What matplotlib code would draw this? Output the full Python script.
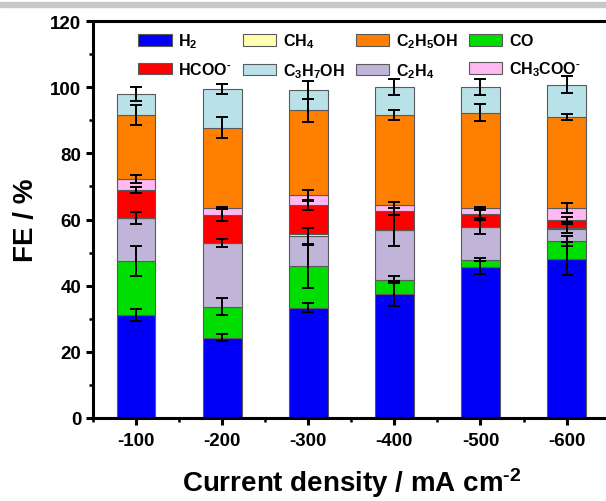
"""
Stacked Faradaic efficiency bars vs current density.
"""

import matplotlib

matplotlib.use("Agg")
import matplotlib.pyplot as plt
from matplotlib.patches import Patch, Rectangle
from matplotlib.ticker import MultipleLocator
import numpy as np

plt.rcParams["font.family"] = ["Liberation Sans", "DejaVu Sans"]
plt.rcParams["font.weight"] = "bold"
plt.rcParams["mathtext.fontset"] = "custom"
plt.rcParams["mathtext.rm"] = "Liberation Sans:bold"
plt.rcParams["mathtext.bf"] = "Liberation Sans:bold"
plt.rcParams["mathtext.default"] = "bf"

CURRENTS = ["-100", "-200", "-300", "-400", "-500", "-600"]

# FE values (%) per product, stacked bottom to top
H2 = [31.2, 24.3, 33.4, 37.6, 45.5, 48.2]
CO = [16.2, 9.4, 12.4, 4.2, 2.4, 5.4]
C2H4 = [13.0, 19.1, 9.2, 14.9, 9.8, 3.6]
CH4 = [0.2, 0.1, 0.5, 0.1, 0.1, 0.1]
HCOO = [8.3, 8.4, 8.9, 5.7, 3.9, 2.7]
CH3COO = [3.3, 2.2, 2.9, 1.9, 1.8, 3.5]
C2H5OH = [19.3, 24.3, 25.7, 27.2, 28.8, 27.5]
C3H7OH = [6.4, 11.7, 6.2, 8.4, 7.7, 9.7]

# error bars (+/-) drawn at the top of each segment
H2_ERR = [1.8, 1.0, 1.3, 3.8, 2.0, 5.0]
CO_ERR = [4.6, 2.6, 6.4, 1.0, 0.5, 1.5]
C2H4_ERR = [1.9, 1.2, 2.5, 4.6, 2.1, 1.3]
CH4_ERR = [0.0, 0.0, 0.0, 0.0, 0.0, 0.0]
HCOO_ERR = [0.8, 1.9, 1.4, 1.0, 1.2, 0.7]
CH3COO_ERR = [1.3, 0.3, 1.6, 1.0, 0.3, 1.4]
C2H5OH_ERR = [3.0, 3.3, 3.5, 1.4, 2.5, 1.0]
C3H7OH_ERR = [2.1, 1.6, 2.8, 2.5, 2.5, 2.6]

MINUS = r"\text{-}"
L_H2 = r"$\mathbf{H_2}$"
L_CO = r"$\mathbf{CO}$"
L_C2H4 = r"$\mathbf{C_2H_4}$"
L_CH4 = r"$\mathbf{CH_4}$"
L_HCOO = r"$\mathbf{HCOO^{" + MINUS + "}}$"
L_CH3COO = r"$\mathbf{CH_3COO^{" + MINUS + "}}$"
L_C2H5OH = r"$\mathbf{C_2H_5OH}$"
L_C3H7OH = r"$\mathbf{C_3H_7OH}$"

SERIES = [
    (L_H2, H2, H2_ERR, "#0000f8"),
    (L_CO, CO, CO_ERR, "#00dd00"),
    (L_C2H4, C2H4, C2H4_ERR, "#c0b4d8"),
    (L_CH4, CH4, CH4_ERR, "#ffffb0"),
    (L_HCOO, HCOO, HCOO_ERR, "#ff0000"),
    (L_CH3COO, CH3COO, CH3COO_ERR, "#ffb8f2"),
    (L_C2H5OH, C2H5OH, C2H5OH_ERR, "#ff8000"),
    (L_C3H7OH, C3H7OH, C3H7OH_ERR, "#b8e2e8"),
]

# legend reads row-wise: H2 CH4 C2H5OH CO / HCOO C3H7OH C2H4 CH3COO
LEGEND_ORDER = [L_H2, L_HCOO, L_CH4, L_C3H7OH, L_C2H5OH, L_C2H4, L_CO, L_CH3COO]

BAR_WIDTH = 0.45
EDGE = "#5a5a5a"

fig = plt.figure(figsize=(6.06, 5.02), dpi=100)
ax = fig.add_axes([93 / 606, 83 / 502, 516.6 / 606, 397 / 502])

# the grey strip at the very top of the original picture
fig.patches.append(Rectangle((0, 494.5 / 502), 1, 4.8 / 502, transform=fig.transFigure,
                             color="#c8c8c8", zorder=0))

x = np.arange(len(CURRENTS))
bottom = np.zeros(len(CURRENTS))
handles = {}
tops = []
for label, vals, errs, color in SERIES:
    vals = np.array(vals)
    ax.bar(x, vals, BAR_WIDTH, bottom=bottom, color=color, edgecolor=EDGE,
           linewidth=0.8, zorder=2)
    handles[label] = Patch(facecolor=color, edgecolor=EDGE, linewidth=0.8)
    bottom = bottom + vals
    tops.append((bottom.copy(), np.array(errs)))

for top, errs in tops:
    mask = errs > 0
    ax.errorbar(x[mask], top[mask], yerr=errs[mask], fmt="none", ecolor="black",
                elinewidth=1.4, capsize=4, capthick=1.4, zorder=3)

ax.set_xlim(-0.5, 5.5)
ax.set_ylim(0, 120)
ax.set_xticks(x)
ax.set_xticklabels(CURRENTS)
ax.xaxis.set_minor_locator(MultipleLocator(1, offset=0.5))
ax.yaxis.set_major_locator(MultipleLocator(20))
ax.yaxis.set_minor_locator(MultipleLocator(10))

for side in ax.spines.values():
    side.set_linewidth(2.2)
ax.tick_params(axis="x", which="major", pad=5)
ax.tick_params(which="major", direction="out", length=5, width=2.2, labelsize=13.5)
ax.tick_params(which="minor", direction="out", length=3, width=1.8)

ax.set_ylabel("FE / %", fontsize=20, fontweight="bold", labelpad=8)
ax.set_xlabel("Current density / mA cm$^{\\mathbf{" + MINUS + "2}}$", fontsize=20,
              fontweight="bold", labelpad=12)

ax.legend([handles[k] for k in LEGEND_ORDER], LEGEND_ORDER, ncol=4,
          loc="upper left", bbox_to_anchor=(0.06, 1.01), frameon=False,
          fontsize=11.5, handlelength=2.1, handleheight=0.72, handletextpad=0.4,
          columnspacing=0.7, labelspacing=0.7, borderaxespad=0.5)

fig.savefig("out.png", dpi=100)
